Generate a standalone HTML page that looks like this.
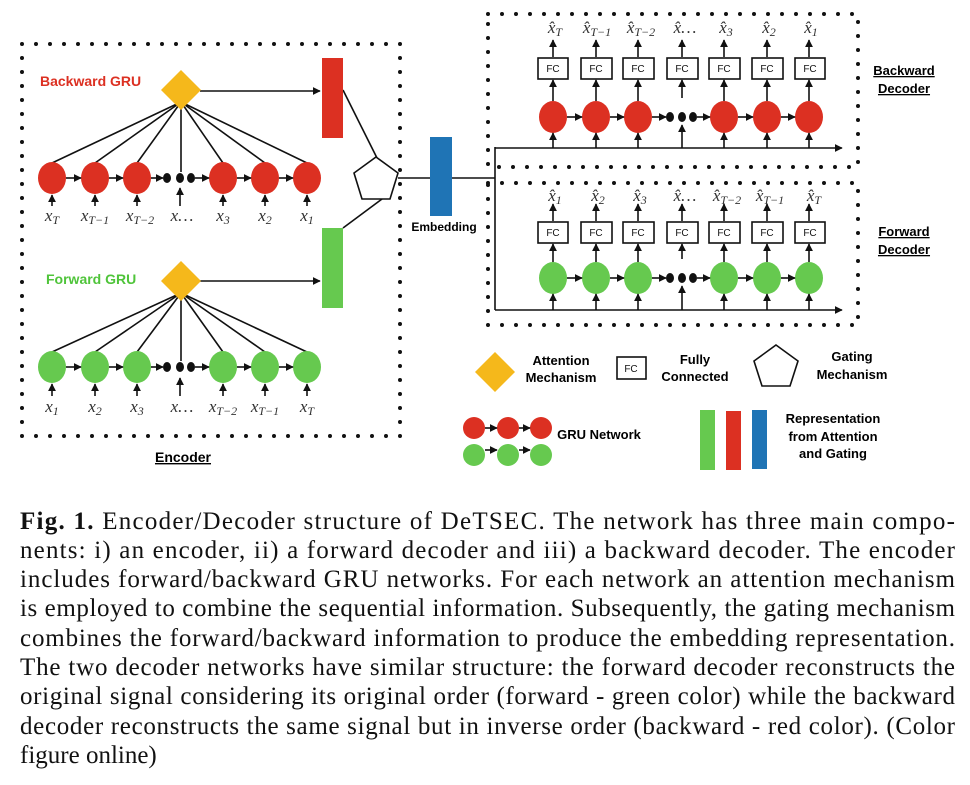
<!DOCTYPE html>
<html><head><meta charset="utf-8"><style>
html,body{margin:0;padding:0;background:#fff}
svg{display:block}
.s{font-family:"Liberation Sans",sans-serif;font-weight:bold}
.m{font-family:"Liberation Serif",serif;font-style:italic;font-size:17px;fill:#333}
.sub{font-size:12px}
.cap{font-family:"Liberation Serif",serif;font-size:25px;fill:#111}
.fc{font-family:"Liberation Sans",sans-serif;font-size:10px;fill:#111}
</style></head><body>
<svg width="970" height="785" viewBox="0 0 970 785" xmlns="http://www.w3.org/2000/svg">
<defs>
<marker id="a" viewBox="0 0 10 10" refX="9" refY="5" markerWidth="5" markerHeight="5" orient="auto"><path d="M0,0L10,5L0,10z" fill="#111"/></marker>
</defs>
<g fill="none" stroke="#111" stroke-width="4" stroke-linecap="round" stroke-dasharray="0 14">
<rect x="22" y="44" width="378" height="392"/>
<rect x="488" y="14" width="370" height="153"/>
<rect x="488" y="183" width="370" height="142"/>
</g>
<text class="s" x="40" y="86" font-size="14" fill="#dc3022">Backward GRU</text>
<text class="s" x="46" y="284" font-size="14" fill="#4fc43a">Forward GRU</text>
<text class="s" x="183" y="462" font-size="14" text-anchor="middle" text-decoration="underline">Encoder</text>
<g stroke="#111" stroke-width="1.6" fill="none">
<line x1="181" y1="102" x2="52" y2="163"/><line x1="181" y1="102" x2="95" y2="163"/><line x1="181" y1="102" x2="137" y2="163"/>
<line x1="181" y1="102" x2="181" y2="172"/><line x1="181" y1="102" x2="223" y2="163"/><line x1="181" y1="102" x2="265" y2="163"/><line x1="181" y1="102" x2="307" y2="163"/>
<line x1="181" y1="293" x2="52" y2="352"/><line x1="181" y1="293" x2="95" y2="352"/><line x1="181" y1="293" x2="137" y2="352"/>
<line x1="181" y1="293" x2="181" y2="361"/><line x1="181" y1="293" x2="223" y2="352"/><line x1="181" y1="293" x2="265" y2="352"/><line x1="181" y1="293" x2="307" y2="352"/>
<line x1="200" y1="91" x2="320" y2="91" marker-end="url(#a)"/>
<line x1="200" y1="281" x2="320" y2="281" marker-end="url(#a)"/>
<line x1="343" y1="90" x2="377" y2="158"/>
<line x1="343" y1="228" x2="382" y2="199"/>
<line x1="398" y1="178" x2="430" y2="178"/>
<line x1="452" y1="178" x2="495" y2="178"/>
<line x1="495" y1="147" x2="495" y2="310"/>
<line x1="495" y1="148" x2="842" y2="148" marker-end="url(#a)"/>
<line x1="495" y1="310" x2="842" y2="310" marker-end="url(#a)"/>
</g>
<rect x="322" y="58" width="21" height="80" fill="#dc3022"/>
<rect x="322" y="228" width="21" height="80" fill="#66c94f"/>
<rect x="430" y="137" width="22" height="79" fill="#1f74b5"/>
<text class="s" x="444" y="231" font-size="12" text-anchor="middle">Embedding</text>
<polygon points="376,157 398,173 390,199 362,199 354,173" fill="#fff" stroke="#111" stroke-width="1.6"/>
<polygon points="181,70 201,90 181,110 161,90" fill="#f5b81b"/>
<polygon points="181,261 201,281 181,301 161,281" fill="#f5b81b"/>
<g fill="#dc3022"><ellipse cx="52" cy="178" rx="14" ry="16"/><ellipse cx="95" cy="178" rx="14" ry="16"/><ellipse cx="137" cy="178" rx="14" ry="16"/><ellipse cx="223" cy="178" rx="14" ry="16"/><ellipse cx="265" cy="178" rx="14" ry="16"/><ellipse cx="307" cy="178" rx="14" ry="16"/></g>
<g fill="#66c94f"><ellipse cx="52" cy="367" rx="14" ry="16"/><ellipse cx="95" cy="367" rx="14" ry="16"/><ellipse cx="137" cy="367" rx="14" ry="16"/><ellipse cx="223" cy="367" rx="14" ry="16"/><ellipse cx="265" cy="367" rx="14" ry="16"/><ellipse cx="307" cy="367" rx="14" ry="16"/></g>
<g fill="#111"><ellipse cx="167" cy="178" rx="4" ry="5"/><ellipse cx="180" cy="178" rx="4" ry="5"/><ellipse cx="191" cy="178" rx="4" ry="5"/>
<ellipse cx="167" cy="367" rx="4" ry="5"/><ellipse cx="180" cy="367" rx="4" ry="5"/><ellipse cx="191" cy="367" rx="4" ry="5"/></g>
<g stroke="#111" stroke-width="1.6" marker-end="url(#a)">
<line x1="66" y1="178" x2="81" y2="178"/><line x1="109" y1="178" x2="123" y2="178"/><line x1="151" y1="178" x2="163" y2="178"/><line x1="195" y1="178" x2="209" y2="178"/><line x1="237" y1="178" x2="251" y2="178"/><line x1="279" y1="178" x2="293" y2="178"/>
<line x1="66" y1="367" x2="81" y2="367"/><line x1="109" y1="367" x2="123" y2="367"/><line x1="151" y1="367" x2="163" y2="367"/><line x1="195" y1="367" x2="209" y2="367"/><line x1="237" y1="367" x2="251" y2="367"/><line x1="279" y1="367" x2="293" y2="367"/>
<line x1="52" y1="206" x2="52" y2="195"/><line x1="95" y1="206" x2="95" y2="195"/><line x1="137" y1="206" x2="137" y2="195"/><line x1="180" y1="206" x2="180" y2="188"/><line x1="223" y1="206" x2="223" y2="195"/><line x1="265" y1="206" x2="265" y2="195"/><line x1="307" y1="206" x2="307" y2="195"/>
<line x1="52" y1="396" x2="52" y2="384"/><line x1="95" y1="396" x2="95" y2="384"/><line x1="137" y1="396" x2="137" y2="384"/><line x1="180" y1="396" x2="180" y2="378"/><line x1="223" y1="396" x2="223" y2="384"/><line x1="265" y1="396" x2="265" y2="384"/><line x1="307" y1="396" x2="307" y2="384"/>
</g>
<g class="m" text-anchor="middle">
<text x="52" y="221">x<tspan class="sub" dy="3">T</tspan></text>
<text x="95" y="221">x<tspan class="sub" dy="3">T−1</tspan></text>
<text x="140" y="221">x<tspan class="sub" dy="3">T−2</tspan></text>
<text x="182" y="221">x…</text>
<text x="223" y="221">x<tspan class="sub" dy="3">3</tspan></text>
<text x="265" y="221">x<tspan class="sub" dy="3">2</tspan></text>
<text x="307" y="221">x<tspan class="sub" dy="3">1</tspan></text>
<text x="52" y="412">x<tspan class="sub" dy="3">1</tspan></text>
<text x="95" y="412">x<tspan class="sub" dy="3">2</tspan></text>
<text x="137" y="412">x<tspan class="sub" dy="3">3</tspan></text>
<text x="182" y="412">x…</text>
<text x="223" y="412">x<tspan class="sub" dy="3">T−2</tspan></text>
<text x="265" y="412">x<tspan class="sub" dy="3">T−1</tspan></text>
<text x="307" y="412">x<tspan class="sub" dy="3">T</tspan></text>
</g>
<g fill="#dc3022"><ellipse cx="553" cy="117" rx="14" ry="16"/><ellipse cx="596" cy="117" rx="14" ry="16"/><ellipse cx="638" cy="117" rx="14" ry="16"/><ellipse cx="724" cy="117" rx="14" ry="16"/><ellipse cx="767" cy="117" rx="14" ry="16"/><ellipse cx="809" cy="117" rx="14" ry="16"/></g>
<g fill="#66c94f"><ellipse cx="553" cy="278" rx="14" ry="16"/><ellipse cx="596" cy="278" rx="14" ry="16"/><ellipse cx="638" cy="278" rx="14" ry="16"/><ellipse cx="724" cy="278" rx="14" ry="16"/><ellipse cx="767" cy="278" rx="14" ry="16"/><ellipse cx="809" cy="278" rx="14" ry="16"/></g>
<g fill="#111"><ellipse cx="670" cy="117" rx="4" ry="5"/><ellipse cx="682" cy="117" rx="4" ry="5"/><ellipse cx="693" cy="117" rx="4" ry="5"/>
<ellipse cx="670" cy="278" rx="4" ry="5"/><ellipse cx="682" cy="278" rx="4" ry="5"/><ellipse cx="693" cy="278" rx="4" ry="5"/></g>
<g stroke="#111" stroke-width="1.6" marker-end="url(#a)">
<line x1="567" y1="117" x2="582" y2="117"/><line x1="610" y1="117" x2="624" y2="117"/><line x1="652" y1="117" x2="666" y2="117"/><line x1="697" y1="117" x2="710" y2="117"/><line x1="738" y1="117" x2="753" y2="117"/><line x1="781" y1="117" x2="795" y2="117"/>
<line x1="567" y1="278" x2="582" y2="278"/><line x1="610" y1="278" x2="624" y2="278"/><line x1="652" y1="278" x2="666" y2="278"/><line x1="697" y1="278" x2="710" y2="278"/><line x1="738" y1="278" x2="753" y2="278"/><line x1="781" y1="278" x2="795" y2="278"/>
</g>
<g fill="#fff" stroke="#111" stroke-width="1.6">
<rect x="538" y="58" width="30" height="21"/><rect x="581" y="58" width="31" height="21"/><rect x="623" y="58" width="31" height="21"/><rect x="667" y="58" width="31" height="21"/><rect x="709" y="58" width="31" height="21"/><rect x="752" y="58" width="31" height="21"/><rect x="795" y="58" width="30" height="21"/>
<rect x="538" y="222" width="30" height="21"/><rect x="581" y="222" width="31" height="21"/><rect x="623" y="222" width="31" height="21"/><rect x="667" y="222" width="31" height="21"/><rect x="709" y="222" width="31" height="21"/><rect x="752" y="222" width="31" height="21"/><rect x="795" y="222" width="30" height="21"/>
</g>
<g class="fc" text-anchor="middle">
<text x="553" y="72">FC</text><text x="596" y="72">FC</text><text x="638" y="72">FC</text><text x="682" y="72">FC</text><text x="724" y="72">FC</text><text x="767" y="72">FC</text><text x="810" y="72">FC</text>
<text x="553" y="236">FC</text><text x="596" y="236">FC</text><text x="638" y="236">FC</text><text x="682" y="236">FC</text><text x="724" y="236">FC</text><text x="767" y="236">FC</text><text x="810" y="236">FC</text>
</g>
<g stroke="#111" stroke-width="1.6" marker-end="url(#a)">
<line x1="553" y1="148" x2="553" y2="133"/><line x1="596" y1="148" x2="596" y2="133"/><line x1="638" y1="148" x2="638" y2="133"/><line x1="682" y1="148" x2="682" y2="125"/><line x1="724" y1="148" x2="724" y2="133"/><line x1="767" y1="148" x2="767" y2="133"/><line x1="809" y1="148" x2="809" y2="133"/>
<line x1="553" y1="101" x2="553" y2="80"/><line x1="596" y1="101" x2="596" y2="80"/><line x1="638" y1="101" x2="638" y2="80"/><line x1="682" y1="98" x2="682" y2="80"/><line x1="724" y1="101" x2="724" y2="80"/><line x1="767" y1="101" x2="767" y2="80"/><line x1="809" y1="101" x2="809" y2="80"/>
<line x1="553" y1="57" x2="553" y2="40"/><line x1="596" y1="57" x2="596" y2="40"/><line x1="638" y1="57" x2="638" y2="40"/><line x1="682" y1="57" x2="682" y2="40"/><line x1="724" y1="57" x2="724" y2="40"/><line x1="767" y1="57" x2="767" y2="40"/><line x1="809" y1="57" x2="809" y2="40"/>
<line x1="553" y1="310" x2="553" y2="294"/><line x1="596" y1="310" x2="596" y2="294"/><line x1="638" y1="310" x2="638" y2="294"/><line x1="682" y1="310" x2="682" y2="286"/><line x1="724" y1="310" x2="724" y2="294"/><line x1="767" y1="310" x2="767" y2="294"/><line x1="809" y1="310" x2="809" y2="294"/>
<line x1="553" y1="262" x2="553" y2="244"/><line x1="596" y1="262" x2="596" y2="244"/><line x1="638" y1="262" x2="638" y2="244"/><line x1="682" y1="259" x2="682" y2="244"/><line x1="724" y1="262" x2="724" y2="244"/><line x1="767" y1="262" x2="767" y2="244"/><line x1="809" y1="262" x2="809" y2="244"/>
<line x1="553" y1="221" x2="553" y2="204"/><line x1="596" y1="221" x2="596" y2="204"/><line x1="638" y1="221" x2="638" y2="204"/><line x1="682" y1="221" x2="682" y2="204"/><line x1="724" y1="221" x2="724" y2="204"/><line x1="767" y1="221" x2="767" y2="204"/><line x1="809" y1="221" x2="809" y2="204"/>
</g>
<g class="m" text-anchor="middle">
<text x="555" y="33">x̂<tspan class="sub" dy="3">T</tspan></text>
<text x="597" y="33">x̂<tspan class="sub" dy="3">T−1</tspan></text>
<text x="641" y="33">x̂<tspan class="sub" dy="3">T−2</tspan></text>
<text x="685" y="33">x̂…</text>
<text x="726" y="33">x̂<tspan class="sub" dy="3">3</tspan></text>
<text x="769" y="33">x̂<tspan class="sub" dy="3">2</tspan></text>
<text x="811" y="33">x̂<tspan class="sub" dy="3">1</tspan></text>
<text x="555" y="201">x̂<tspan class="sub" dy="3">1</tspan></text>
<text x="598" y="201">x̂<tspan class="sub" dy="3">2</tspan></text>
<text x="640" y="201">x̂<tspan class="sub" dy="3">3</tspan></text>
<text x="685" y="201">x̂…</text>
<text x="727" y="201">x̂<tspan class="sub" dy="3">T−2</tspan></text>
<text x="770" y="201">x̂<tspan class="sub" dy="3">T−1</tspan></text>
<text x="814" y="201">x̂<tspan class="sub" dy="3">T</tspan></text>
</g>
<g class="s" font-size="13" text-anchor="middle" text-decoration="underline">
<text x="904" y="75">Backward</text><text x="904" y="93">Decoder</text>
<text x="904" y="236">Forward</text><text x="904" y="254">Decoder</text>
</g>
<polygon points="495,352 515,372 495,392 475,372" fill="#f5b81b"/>
<g class="s" font-size="13" text-anchor="middle">
<text x="561" y="365">Attention</text><text x="561" y="382">Mechanism</text>
<text x="695" y="364">Fully</text><text x="695" y="381">Connected</text>
<text x="852" y="361">Gating</text><text x="852" y="379">Mechanism</text>
<text x="833" y="423">Representation</text><text x="833" y="441">from Attention</text><text x="833" y="458">and Gating</text>
<text x="599" y="439">GRU Network</text>
</g>
<rect x="617" y="357" width="29" height="22" fill="#fff" stroke="#111" stroke-width="1.6"/>
<text class="fc" x="631" y="372" text-anchor="middle">FC</text>
<polygon points="776,345 798,361 790,386 762,386 754,361" fill="#fff" stroke="#111" stroke-width="1.6"/>
<g fill="#dc3022"><circle cx="474" cy="428" r="11"/><circle cx="508" cy="428" r="11"/><circle cx="541" cy="428" r="11"/></g>
<g fill="#66c94f"><circle cx="474" cy="455" r="11"/><circle cx="508" cy="455" r="11"/><circle cx="541" cy="455" r="11"/></g>
<g stroke="#111" stroke-width="1.6" marker-end="url(#a)">
<line x1="485" y1="428" x2="497" y2="428"/><line x1="519" y1="428" x2="530" y2="428"/>
<line x1="485" y1="450" x2="497" y2="450"/><line x1="519" y1="450" x2="530" y2="450"/>
</g>
<rect x="700" y="410" width="15" height="60" fill="#66c94f"/>
<rect x="726" y="411" width="15" height="59" fill="#dc3022"/>
<rect x="752" y="410" width="15" height="59" fill="#1f74b5"/>
<g class="cap">
<text x="20" y="529" textLength="935" lengthAdjust="spacing"><tspan font-weight="bold">Fig. 1.</tspan> Encoder/Decoder structure of DeTSEC. The network has three main compo-</text>
<text x="20" y="558" textLength="935" lengthAdjust="spacing">nents: i) an encoder, ii) a forward decoder and iii) a backward decoder. The encoder</text>
<text x="20" y="587" textLength="935" lengthAdjust="spacing">includes forward/backward GRU networks. For each network an attention mechanism</text>
<text x="20" y="616" textLength="935" lengthAdjust="spacing">is employed to combine the sequential information. Subsequently, the gating mechanism</text>
<text x="20" y="646" textLength="935" lengthAdjust="spacing">combines the forward/backward information to produce the embedding representation.</text>
<text x="20" y="675" textLength="935" lengthAdjust="spacing">The two decoder networks have similar structure: the forward decoder reconstructs the</text>
<text x="20" y="704" textLength="935" lengthAdjust="spacing">original signal considering its original order (forward - green color) while the backward</text>
<text x="20" y="734" textLength="935" lengthAdjust="spacing">decoder reconstructs the same signal but in inverse order (backward - red color). (Color</text>
<text x="20" y="763">figure online)</text>
</g>
</svg>
</body></html>
